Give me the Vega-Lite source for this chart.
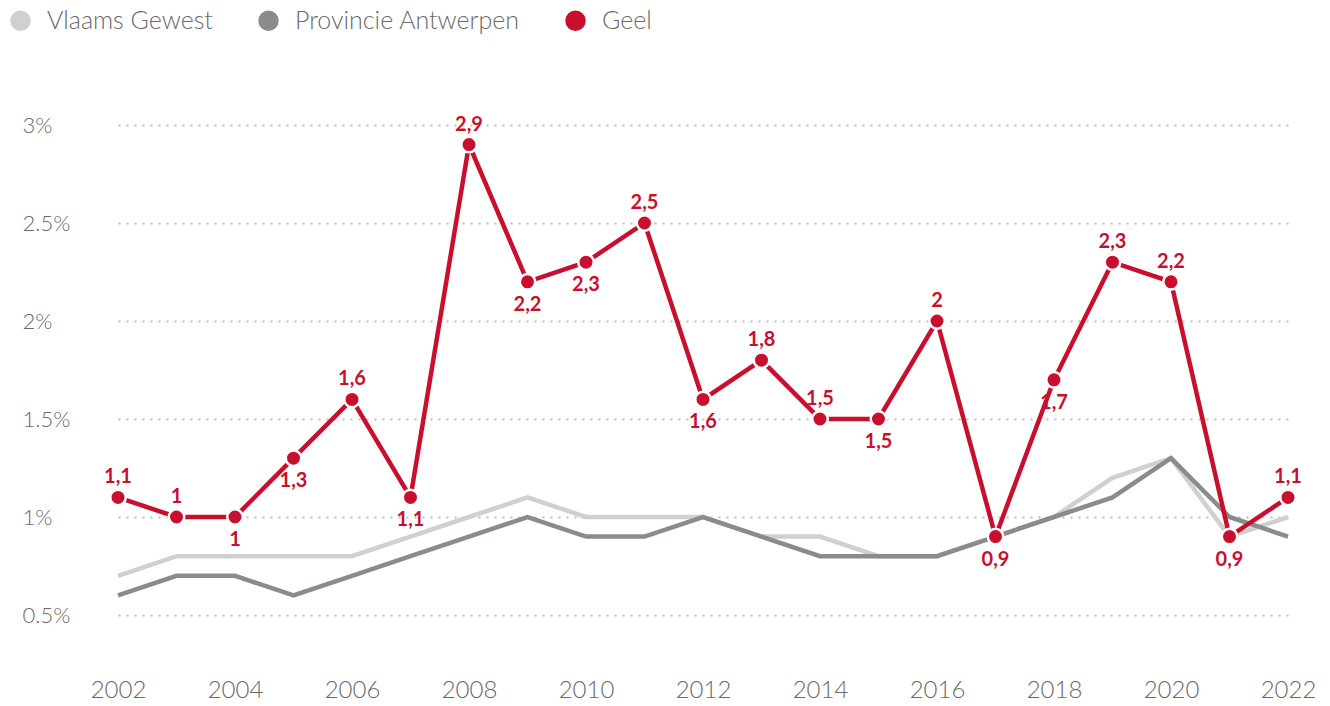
{
  "$schema": "https://vega.github.io/schema/vega-lite/v6.json",
  "width": 1170,
  "height": 490,
  "autosize": "none",
  "padding": {"left": 118, "top": 125, "right": 42, "bottom": 91},
  "background": "white",
  "config": {
    "view": {"stroke": null},
    "locale": {"number": {"decimal": ",", "thousands": ".", "grouping": [3], "currency": ["", " €"]}},
    "font": "Lato"
  },
  "data": {"values": [
    {"year": 2002, "series": "Vlaams Gewest", "value": 0.7},
    {"year": 2003, "series": "Vlaams Gewest", "value": 0.8},
    {"year": 2004, "series": "Vlaams Gewest", "value": 0.8},
    {"year": 2005, "series": "Vlaams Gewest", "value": 0.8},
    {"year": 2006, "series": "Vlaams Gewest", "value": 0.8},
    {"year": 2007, "series": "Vlaams Gewest", "value": 0.9},
    {"year": 2008, "series": "Vlaams Gewest", "value": 1.0},
    {"year": 2009, "series": "Vlaams Gewest", "value": 1.1},
    {"year": 2010, "series": "Vlaams Gewest", "value": 1.0},
    {"year": 2011, "series": "Vlaams Gewest", "value": 1.0},
    {"year": 2012, "series": "Vlaams Gewest", "value": 1.0},
    {"year": 2013, "series": "Vlaams Gewest", "value": 0.9},
    {"year": 2014, "series": "Vlaams Gewest", "value": 0.9},
    {"year": 2015, "series": "Vlaams Gewest", "value": 0.8},
    {"year": 2016, "series": "Vlaams Gewest", "value": 0.8},
    {"year": 2017, "series": "Vlaams Gewest", "value": 0.9},
    {"year": 2018, "series": "Vlaams Gewest", "value": 1.0},
    {"year": 2019, "series": "Vlaams Gewest", "value": 1.2},
    {"year": 2020, "series": "Vlaams Gewest", "value": 1.3},
    {"year": 2021, "series": "Vlaams Gewest", "value": 0.9},
    {"year": 2022, "series": "Vlaams Gewest", "value": 1.0},
    {"year": 2002, "series": "Provincie Antwerpen", "value": 0.6},
    {"year": 2003, "series": "Provincie Antwerpen", "value": 0.7},
    {"year": 2004, "series": "Provincie Antwerpen", "value": 0.7},
    {"year": 2005, "series": "Provincie Antwerpen", "value": 0.6},
    {"year": 2006, "series": "Provincie Antwerpen", "value": 0.7},
    {"year": 2007, "series": "Provincie Antwerpen", "value": 0.8},
    {"year": 2008, "series": "Provincie Antwerpen", "value": 0.9},
    {"year": 2009, "series": "Provincie Antwerpen", "value": 1.0},
    {"year": 2010, "series": "Provincie Antwerpen", "value": 0.9},
    {"year": 2011, "series": "Provincie Antwerpen", "value": 0.9},
    {"year": 2012, "series": "Provincie Antwerpen", "value": 1.0},
    {"year": 2013, "series": "Provincie Antwerpen", "value": 0.9},
    {"year": 2014, "series": "Provincie Antwerpen", "value": 0.8},
    {"year": 2015, "series": "Provincie Antwerpen", "value": 0.8},
    {"year": 2016, "series": "Provincie Antwerpen", "value": 0.8},
    {"year": 2017, "series": "Provincie Antwerpen", "value": 0.9},
    {"year": 2018, "series": "Provincie Antwerpen", "value": 1.0},
    {"year": 2019, "series": "Provincie Antwerpen", "value": 1.1},
    {"year": 2020, "series": "Provincie Antwerpen", "value": 1.3},
    {"year": 2021, "series": "Provincie Antwerpen", "value": 1.0},
    {"year": 2022, "series": "Provincie Antwerpen", "value": 0.9},
    {"year": 2002, "series": "Geel", "value": 1.1},
    {"year": 2003, "series": "Geel", "value": 1.0},
    {"year": 2004, "series": "Geel", "value": 1.0},
    {"year": 2005, "series": "Geel", "value": 1.3},
    {"year": 2006, "series": "Geel", "value": 1.6},
    {"year": 2007, "series": "Geel", "value": 1.1},
    {"year": 2008, "series": "Geel", "value": 2.9},
    {"year": 2009, "series": "Geel", "value": 2.2},
    {"year": 2010, "series": "Geel", "value": 2.3},
    {"year": 2011, "series": "Geel", "value": 2.5},
    {"year": 2012, "series": "Geel", "value": 1.6},
    {"year": 2013, "series": "Geel", "value": 1.8},
    {"year": 2014, "series": "Geel", "value": 1.5},
    {"year": 2015, "series": "Geel", "value": 1.5},
    {"year": 2016, "series": "Geel", "value": 2.0},
    {"year": 2017, "series": "Geel", "value": 0.9},
    {"year": 2018, "series": "Geel", "value": 1.7},
    {"year": 2019, "series": "Geel", "value": 2.3},
    {"year": 2020, "series": "Geel", "value": 2.2},
    {"year": 2021, "series": "Geel", "value": 0.9},
    {"year": 2022, "series": "Geel", "value": 1.1}
  ]},
  "encoding": {
    "x": {
      "field": "year", "type": "quantitative",
      "scale": {"domain": [2002, 2022], "nice": false, "zero": false},
      "axis": {
        "title": null, "values": [2002, 2004, 2006, 2008, 2010, 2012, 2014, 2016, 2018, 2020, 2022],
        "format": "d", "grid": false, "domain": false, "ticks": false, "tickSize": 0,
        "labelPadding": 75, "labelFontSize": 24, "labelFont": "Lato", "labelFontWeight": 300,
        "labelColor": "#6a6a6a", "labelBaseline": "middle", "labelFlush": false
      }
    },
    "y": {
      "field": "value", "type": "quantitative",
      "scale": {"domain": [0.5, 3], "nice": false, "zero": false},
      "axis": {
        "title": null, "values": [0.5, 1, 1.5, 2, 2.5, 3],
        "labelExpr": "datum.value + '%'",
        "domain": false, "ticks": false, "tickSize": 0,
        "grid": true, "gridColor": "#bdbdbd", "gridDash": [2, 6], "gridWidth": 2,
        "labelAlign": "left", "labelPadding": 96, "labelFontSize": 22, "labelFont": "Lato",
        "labelFontWeight": 300, "labelColor": "#6a6a6a", "labelBaseline": "middle"
      }
    }
  },
  "layer": [
    {
      "mark": {"type": "line", "strokeWidth": 4.5, "strokeJoin": "miter"},
      "encoding": {
        "color": {
          "field": "series", "type": "nominal",
          "scale": {"domain": ["Vlaams Gewest", "Provincie Antwerpen", "Geel"], "range": ["#d0d0d0", "#898b8d", "#c8102e"]},
          "legend": {
            "title": null, "orient": "none", "direction": "horizontal",
            "legendX": -110, "legendY": -117,
            "symbolType": "circle", "symbolSize": 420, "symbolStrokeWidth": 0,
            "labelFontSize": 25, "labelFont": "Lato", "labelFontWeight": 300, "labelColor": "#6a6a6a",
            "labelOffset": 14, "labelLimit": 400, "columnPadding": 43, "padding": 0,
            "encode": {"symbols": {"update": {"fill": {"scale": "color", "field": "value"}, "strokeWidth": {"value": 0}}}}
          }
        },
        "order": {"field": "year"}
      }
    },
    {
      "transform": [{"filter": "datum.series === 'Geel'"}],
      "mark": {"type": "point", "filled": true, "shape": "circle", "size": 240, "color": "#c8102e", "stroke": "white", "strokeWidth": 2.5, "opacity": 1}
    },
    {
      "transform": [{"filter": "datum.series === 'Geel' && indexof([2004, 2005, 2007, 2009, 2010, 2012, 2015, 2017, 2018, 2021], datum.year) < 0"}],
      "mark": {"type": "text", "dy": -20, "fontSize": 20, "fontWeight": "bold", "font": "Lato", "color": "#c8102e"},
      "encoding": {"text": {"field": "value", "type": "quantitative", "format": ".1~f"}}
    },
    {
      "transform": [{"filter": "datum.series === 'Geel' && indexof([2004, 2005, 2007, 2009, 2010, 2012, 2015, 2017, 2018, 2021], datum.year) >= 0"}],
      "mark": {"type": "text", "dy": 23, "fontSize": 20, "fontWeight": "bold", "font": "Lato", "color": "#c8102e"},
      "encoding": {"text": {"field": "value", "type": "quantitative", "format": ".1~f"}}
    }
  ]
}
